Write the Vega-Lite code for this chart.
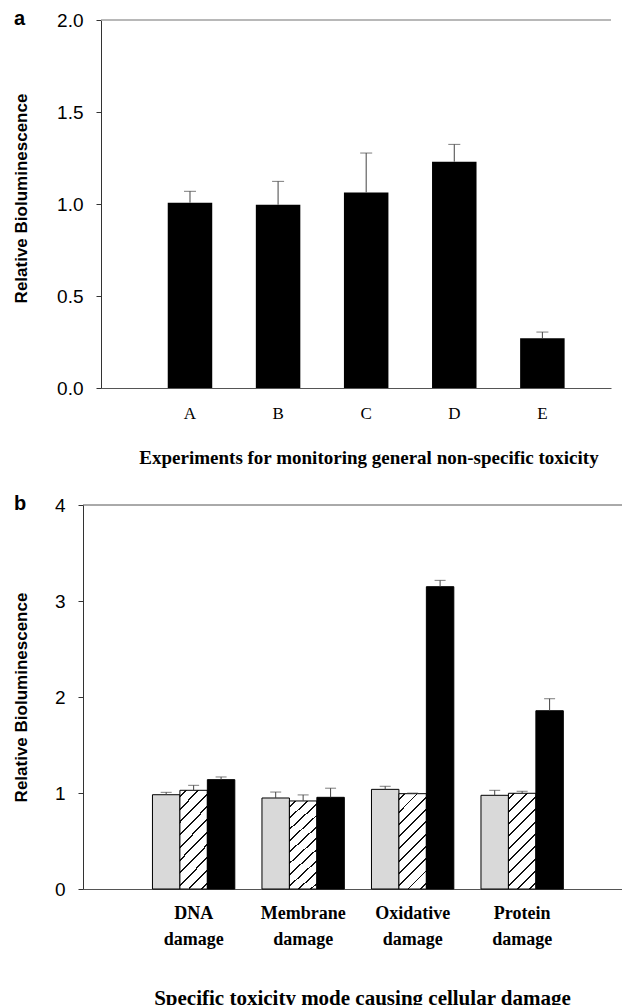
{
  "$schema": "https://vega.github.io/schema/vega-lite/v6.json",
  "background": "white",
  "padding": {"left": 12, "top": 9, "right": 0, "bottom": 0},
  "spacing": 117,
  "bounds": "flush",
  "center": true,
  "config": {"view": {"stroke": null}, "axis": {"grid": false}},
  "vconcat": [
    {
      "width": 510,
      "height": 368,
      "title": {"text": "a", "anchor": "start", "frame": "group", "orient": "top", "offset": -34, "dx": -87, "baseline": "alphabetic", "font": "Liberation Sans", "fontSize": 20, "fontWeight": "bold", "color": "black"},
      "data": {"values": [
        {"exp": "A", "value": 1.007, "upper": 1.069},
        {"exp": "B", "value": 0.996, "upper": 1.123},
        {"exp": "C", "value": 1.063, "upper": 1.277},
        {"exp": "D", "value": 1.23, "upper": 1.324},
        {"exp": "E", "value": 0.27, "upper": 0.304}
      ]},
      "layer": [
        {
          "mark": {"type": "bar", "color": "black"},
          "encoding": {
            "x": {"field": "exp", "type": "nominal",
              "scale": {"paddingInner": 0.495, "paddingOuter": 0.642, "align": 0.59},
              "axis": {"title": "Experiments for monitoring general non-specific toxicity", "labelAngle": 0, "ticks": false, "labelFont": "Liberation Serif", "labelFontSize": 17, "labelColor": "black", "labelPadding": 30, "labelBaseline": "alphabetic", "domainColor": "#555", "titleFont": "Liberation Serif", "titleFontSize": 19, "titleFontWeight": "bold", "titleColor": "black", "titleX": 267.5, "titleY": 75, "titleBaseline": "alphabetic", "titleAlign": "center"}},
            "y": {"field": "value", "type": "quantitative",
              "scale": {"domain": [0, 2]},
              "axis": {"title": "Relative Bioluminescence", "values": [0, 0.5, 1, 1.5, 2], "format": ".1f", "tickSize": 5, "labelPadding": 13, "labelFont": "Liberation Sans", "labelFontSize": 19, "labelColor": "black", "domainColor": "#333", "tickColor": "#333", "titleFont": "Liberation Sans", "titleFontSize": 17, "titleFontWeight": "bold", "titleColor": "black", "titleX": -75, "titleY": 178, "titleBaseline": "alphabetic"}}
          }
        },
        {
          "mark": {"type": "rule", "color": "#444", "strokeWidth": 1},
          "encoding": {
            "x": {"field": "exp", "type": "nominal"},
            "y": {"field": "value", "type": "quantitative"},
            "y2": {"field": "upper"}
          }
        },
        {
          "mark": {"type": "tick", "color": "#444", "size": 12, "thickness": 1},
          "encoding": {
            "x": {"field": "exp", "type": "nominal"},
            "y": {"field": "upper", "type": "quantitative"}
          }
        },
        {
          "data": {"values": [{}]},
          "mark": {"type": "rule", "color": "#a0a0a0", "strokeWidth": 1.5},
          "encoding": {"y": {"datum": 2}}
        }
      ]
    },
    {
      "width": 546,
      "height": 384,
      "title": {"text": "b", "anchor": "start", "frame": "group", "orient": "top", "offset": -34, "dx": -69, "baseline": "alphabetic", "font": "Liberation Sans", "fontSize": 20, "fontWeight": "bold", "color": "black"},
      "data": {"values": [
        {"mode": "DNA damage", "series": "Series 1", "value": 0.982, "upper": 1.007},
        {"mode": "DNA damage", "series": "Series 2", "value": 1.028, "upper": 1.08},
        {"mode": "DNA damage", "series": "Series 3", "value": 1.139, "upper": 1.167},
        {"mode": "Membrane damage", "series": "Series 1", "value": 0.948, "upper": 1.01},
        {"mode": "Membrane damage", "series": "Series 2", "value": 0.917, "upper": 0.98},
        {"mode": "Membrane damage", "series": "Series 3", "value": 0.955, "upper": 1.05},
        {"mode": "Oxidative damage", "series": "Series 1", "value": 1.038, "upper": 1.07},
        {"mode": "Oxidative damage", "series": "Series 2", "value": 0.993, "upper": 0.999},
        {"mode": "Oxidative damage", "series": "Series 3", "value": 3.149, "upper": 3.215},
        {"mode": "Protein damage", "series": "Series 1", "value": 0.976, "upper": 1.028},
        {"mode": "Protein damage", "series": "Series 2", "value": 0.997, "upper": 1.018},
        {"mode": "Protein damage", "series": "Series 3", "value": 1.857, "upper": 1.982}
      ]},
      "layer": [
        {
          "mark": {"type": "bar", "stroke": "black", "strokeWidth": 1},
          "encoding": {
            "x": {"field": "mode", "type": "nominal",
              "scale": {"paddingInner": 0.248, "paddingOuter": 0.617, "align": 0.514},
              "axis": {"title": "Specific toxicity mode causing cellular damage", "labelAngle": 0, "ticks": false, "labelExpr": "split(datum.label, ' ')", "labelFont": "Liberation Serif", "labelFontSize": 18, "labelFontWeight": "bold", "labelColor": "black", "labelPadding": 29, "labelBaseline": "alphabetic", "labelLineHeight": 26, "domainColor": "#555", "titleFont": "Liberation Serif", "titleFontSize": 21, "titleFontWeight": "bold", "titleColor": "black", "titleX": 279, "titleY": 115, "titleBaseline": "alphabetic", "titleAlign": "center"}},
            "xOffset": {"field": "series", "type": "nominal", "scale": {"paddingInner": 0, "paddingOuter": 0}},
            "y": {"field": "value", "type": "quantitative",
              "scale": {"domain": [0, 4]},
              "axis": {"title": "Relative Bioluminescence", "values": [0, 1, 2, 3, 4], "format": "d", "tickSize": 5, "labelPadding": 13, "labelFont": "Liberation Sans", "labelFontSize": 19, "labelColor": "black", "domainColor": "#333", "tickColor": "#333", "titleFont": "Liberation Sans", "titleFontSize": 17, "titleFontWeight": "bold", "titleColor": "black", "titleX": -57, "titleBaseline": "alphabetic"}},
            "fill": {
              "condition": [
                {"test": "datum.series === 'Series 3'", "value": "black"},
                {"test": "datum.series === 'Series 2'", "value": {"gradient": "linear", "x1": 0, "y1": 0, "x2": 0.343, "y2": 1.19, "stops": [
                  {"offset": 0, "color": "white"},
                  {"offset": 0.042, "color": "white"}, {"offset": 0.042, "color": "#111"}, {"offset": 0.058, "color": "#111"}, {"offset": 0.058, "color": "white"},
                  {"offset": 0.142, "color": "white"}, {"offset": 0.142, "color": "#111"}, {"offset": 0.158, "color": "#111"}, {"offset": 0.158, "color": "white"},
                  {"offset": 0.242, "color": "white"}, {"offset": 0.242, "color": "#111"}, {"offset": 0.258, "color": "#111"}, {"offset": 0.258, "color": "white"},
                  {"offset": 0.342, "color": "white"}, {"offset": 0.342, "color": "#111"}, {"offset": 0.358, "color": "#111"}, {"offset": 0.358, "color": "white"},
                  {"offset": 0.442, "color": "white"}, {"offset": 0.442, "color": "#111"}, {"offset": 0.458, "color": "#111"}, {"offset": 0.458, "color": "white"},
                  {"offset": 0.542, "color": "white"}, {"offset": 0.542, "color": "#111"}, {"offset": 0.558, "color": "#111"}, {"offset": 0.558, "color": "white"},
                  {"offset": 0.642, "color": "white"}, {"offset": 0.642, "color": "#111"}, {"offset": 0.658, "color": "#111"}, {"offset": 0.658, "color": "white"},
                  {"offset": 0.742, "color": "white"}, {"offset": 0.742, "color": "#111"}, {"offset": 0.758, "color": "#111"}, {"offset": 0.758, "color": "white"},
                  {"offset": 0.842, "color": "white"}, {"offset": 0.842, "color": "#111"}, {"offset": 0.858, "color": "#111"}, {"offset": 0.858, "color": "white"},
                  {"offset": 0.942, "color": "white"}, {"offset": 0.942, "color": "#111"}, {"offset": 0.958, "color": "#111"}, {"offset": 0.958, "color": "white"},
                  {"offset": 1, "color": "white"}
                ]}}
              ],
              "value": "#d9d9d9"
            }
          }
        },
        {
          "mark": {"type": "rule", "color": "#444", "strokeWidth": 1},
          "encoding": {
            "x": {"field": "mode", "type": "nominal"},
            "xOffset": {"field": "series", "type": "nominal"},
            "y": {"field": "value", "type": "quantitative"},
            "y2": {"field": "upper"}
          }
        },
        {
          "mark": {"type": "tick", "color": "#444", "size": 11, "thickness": 1},
          "encoding": {
            "x": {"field": "mode", "type": "nominal"},
            "xOffset": {"field": "series", "type": "nominal"},
            "y": {"field": "upper", "type": "quantitative"}
          }
        },
        {
          "data": {"values": [{}]},
          "mark": {"type": "rule", "color": "#555", "strokeWidth": 1},
          "encoding": {"y": {"datum": 4}}
        }
      ]
    }
  ]
}
